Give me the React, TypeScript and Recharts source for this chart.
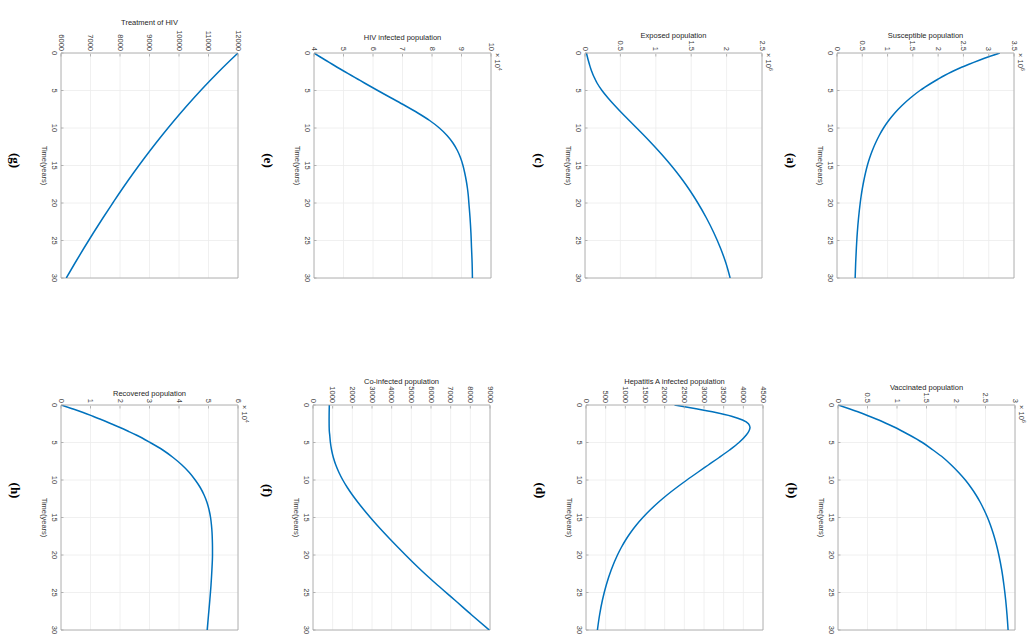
import React from 'react';
import { LineChart, Line, XAxis, YAxis, CartesianGrid, ReferenceLine, Label } from 'recharts';

// ---------- data ----------
const timeYears = [0, 0.5, 1, 1.5, 2, 2.5, 3, 3.5, 4, 5, 6, 7, 8, 9, 10, 11, 12, 13, 14, 15, 16, 17, 18, 19, 20, 22, 24, 26, 28, 30];
const timeTicks = [0, 5, 10, 15, 20, 25, 30];

// (a) Susceptible population, x10^6
const susceptible = [3.22, 3.0, 2.8, 2.61, 2.43, 2.27, 2.125, 1.995, 1.87, 1.64, 1.45, 1.285, 1.143, 1.022, 0.92, 0.835, 0.762, 0.699, 0.645, 0.6, 0.563, 0.531, 0.503, 0.479, 0.459, 0.426, 0.401, 0.383, 0.369, 0.359];
const susceptibleTicks = [0, 0.5, 1, 1.5, 2, 2.5, 3, 3.5];

// (b) Vaccinated population, x10^6
const vaccinated = [0, 0.19, 0.37, 0.53, 0.69, 0.83, 0.97, 1.09, 1.21, 1.43, 1.61, 1.78, 1.92, 2.045, 2.158, 2.254, 2.339, 2.413, 2.477, 2.534, 2.583, 2.626, 2.664, 2.697, 2.726, 2.775, 2.812, 2.842, 2.865, 2.883];
const vaccinatedTicks = [0, 0.5, 1, 1.5, 2, 2.5, 3];

// (c) Exposed population, x10^6
const exposed = [0.02, 0.033, 0.047, 0.062, 0.078, 0.097, 0.118, 0.143, 0.17, 0.24, 0.325, 0.42, 0.52, 0.625, 0.73, 0.835, 0.936, 1.034, 1.128, 1.218, 1.303, 1.383, 1.458, 1.528, 1.594, 1.715, 1.821, 1.913, 1.99, 2.05];
const exposedTicks = [0, 0.5, 1, 1.5, 2, 2.5];

// (d) Hepatitis A infected population
const hepatitisA = [2250, 2800, 3300, 3700, 3980, 4130, 4170, 4140, 4075, 3890, 3650, 3385, 3110, 2835, 2565, 2305, 2060, 1835, 1630, 1445, 1280, 1135, 1008, 897, 800, 640, 515, 418, 345, 290];
const hepatitisATicks = [0, 500, 1000, 1500, 2000, 2500, 3000, 3500, 4000, 4500];

// (e) HIV infected population, x10^4
const hivInfected = [4.0, 4.2, 4.41, 4.62, 4.83, 5.05, 5.27, 5.49, 5.71, 6.16, 6.62, 7.08, 7.52, 7.92, 8.25, 8.51, 8.71, 8.86, 8.97, 9.05, 9.11, 9.16, 9.2, 9.23, 9.25, 9.29, 9.32, 9.34, 9.36, 9.37];
const hivInfectedTicks = [4, 5, 6, 7, 8, 9, 10];

// (f) Co-infected population
const coInfected = [830, 826, 822, 820, 819, 820, 823, 830, 850, 885, 945, 1035, 1160, 1320, 1515, 1745, 2005, 2290, 2595, 2915, 3250, 3600, 3960, 4330, 4705, 5485, 6325, 7205, 8070, 8960];
const coInfectedTicks = [0, 1000, 2000, 3000, 4000, 5000, 6000, 7000, 8000, 9000];

// (g) Treatment of HIV
const treatment = [12000, 11865, 11732, 11601, 11472, 11345, 11220, 11096, 10974, 10735, 10502, 10275, 10054, 9838, 9627, 9421, 9219, 9022, 8829, 8640, 8455, 8274, 8097, 7924, 7755, 7420, 7095, 6780, 6475, 6180];
const treatmentTicks = [6000, 7000, 8000, 9000, 10000, 11000, 12000];

// (h) Recovered population, x10^4
const recovered = [0, 0.38, 0.75, 1.08, 1.4, 1.7, 2.0, 2.28, 2.55, 3.02, 3.45, 3.8, 4.1, 4.35, 4.55, 4.72, 4.85, 4.95, 5.02, 5.07, 5.1, 5.12, 5.13, 5.135, 5.135, 5.115, 5.085, 5.045, 5.0, 4.955];
const recoveredTicks = [0, 1, 2, 3, 4, 5, 6];

// ---------- layout ----------
const BOX_W = 177;
const BOX_H = 225;
const AX = 1; // thickness reserved for each axis
const ML = 62;
const MR = 24;
const MT = 50;
const MB = 8;
const BOX = '#a3a3a3';
const GRID = '#ececec';
const LINE = '#0072BD';
const SANS = '"Liberation Sans", Arial, Helvetica, sans-serif';
const SERIF = '"Liberation Serif", "Times New Roman", serif';

type PanelCfg = {
  letter: string;
  title: string;
  values: number[];
  ticks: number[];
  exp?: string;
  boxLeft: number;
  boxTop: number;
  titleGap: number;
  letterShift: number;
};

const panels: PanelCfg[] = [
  { letter: '(a)', title: 'Susceptible population', values: susceptible, ticks: susceptibleTicks, exp: '6', boxLeft: 837, boxTop: 53, titleGap: 18, letterShift: -5 },
  { letter: '(c)', title: 'Exposed population', values: exposed, ticks: exposedTicks, exp: '6', boxLeft: 585, boxTop: 53, titleGap: 18, letterShift: -5 },
  { letter: '(e)', title: 'HIV infected population', values: hivInfected, ticks: hivInfectedTicks, exp: '4', boxLeft: 314, boxTop: 53, titleGap: 16, letterShift: -5 },
  { letter: '(g)', title: 'Treatment of HIV', values: treatment, ticks: treatmentTicks, boxLeft: 61, boxTop: 53, titleGap: 31, letterShift: -5 },
  { letter: '(b)', title: 'Vaccinated population', values: vaccinated, ticks: vaccinatedTicks, exp: '6', boxLeft: 838, boxTop: 405, titleGap: 18, letterShift: -27 },
  { letter: '(d)', title: 'Hepatitis A infected population', values: hepatitisA, ticks: hepatitisATicks, boxLeft: 586, boxTop: 405, titleGap: 24, letterShift: -27 },
  { letter: '(f)', title: 'Co-infected population', values: coInfected, ticks: coInfectedTicks, boxLeft: 313, boxTop: 405, titleGap: 24, letterShift: -27 },
  { letter: '(h)', title: 'Recovered population', values: recovered, ticks: recoveredTicks, exp: '4', boxLeft: 61, boxTop: 405, titleGap: 12, letterShift: -27 },
];

// ---------- ticks ----------
const ValueTick = (props: any) => {
  const { x, y, payload } = props;
  const ay = y + AX;
  return (
    <g>
      <line x1={x} y1={ay} x2={x} y2={ay + 2.5} stroke={BOX} strokeWidth={0.8} />
      <text
        x={x}
        y={ay - 3}
        transform={`rotate(90 ${x} ${ay - 3})`}
        textAnchor="end"
        dominantBaseline="central"
        fontFamily={SANS}
        fontSize={7.5}
        fill="#404040"
      >
        {String(payload.value)}
      </text>
    </g>
  );
};

const TimeTick = (props: any) => {
  const { x, y, payload } = props;
  const ax = x;
  return (
    <g>
      <line x1={ax} y1={y} x2={ax + 2.5} y2={y} stroke={BOX} strokeWidth={0.8} />
      <text
        x={ax - 7}
        y={y}
        transform={`rotate(90 ${ax - 7} ${y})`}
        textAnchor="middle"
        dominantBaseline="central"
        fontFamily={SANS}
        fontSize={7.5}
        fill="#404040"
      >
        {String(payload.value)}
      </text>
    </g>
  );
};

// ---------- panel ----------
function Panel({ p }: { p: PanelCfg }) {
  const data = timeYears.map((t, i) => ({ t, v: p.values[i] }));
  const lo = p.ticks[0];
  const hi = p.ticks[p.ticks.length - 1];
  const W = BOX_W + ML + MR;
  const H = BOX_H + MT + MB;

  const titleContent = (lp: any) => {
    const vb = lp.viewBox || {};
    const top = vb.y + (vb.height || 0);
    const cx = vb.x + vb.width / 2;
    const ex = vb.x + vb.width + 6;
    return (
      <g>
        <text x={cx} y={top - p.titleGap} textAnchor="middle" dominantBaseline="central" fontFamily={SANS} fontSize={7.5} fill="#262626">
          {p.title}
        </text>
        {p.exp ? (
          <text
            x={ex}
            y={top}
            transform={`rotate(90 ${ex} ${top})`}
            textAnchor="start"
            dominantBaseline="central"
            fontFamily={SANS}
            fontSize={7.5}
            fill="#404040"
          >
            {'\u00d7 10'}
            <tspan dy={-3} fontSize={5.5}>{p.exp}</tspan>
          </text>
        ) : null}
      </g>
    );
  };

  const sideContent = (lp: any) => {
    const vb = lp.viewBox || {};
    const left = vb.x + (vb.width || 0);
    const cy = vb.y + vb.height / 2;
    const tx = left - 17;
    const lx = left - 46;
    const ly = cy + p.letterShift;
    return (
      <g>
        <text x={tx} y={cy} transform={`rotate(90 ${tx} ${cy})`} textAnchor="middle" dominantBaseline="central" fontFamily={SANS} fontSize={7.5} fill="#404040">
          Time(years)
        </text>
        <text x={lx} y={ly} transform={`rotate(90 ${lx} ${ly})`} textAnchor="middle" dominantBaseline="central" fontFamily={SERIF} fontWeight="bold" fontSize={13} fill="#000">
          {p.letter}
        </text>
      </g>
    );
  };

  return (
    <div style={{ position: 'absolute', left: p.boxLeft - ML - AX, top: p.boxTop - MT - AX, width: W + AX, height: H + AX }}>
      <LineChart layout="vertical" width={W + AX} height={H + AX} data={data} margin={{ top: MT, right: MR, bottom: MB, left: ML }}>
        <CartesianGrid stroke={GRID} strokeWidth={0.8} />
        <XAxis
          type="number"
          orientation="top"
          domain={[lo, hi]}
          ticks={p.ticks}
          height={AX}
          interval={0}
          tickSize={0}
          tickMargin={0}
          tickLine={false}
          axisLine={{ stroke: BOX, strokeWidth: 0.8 }}
          tick={<ValueTick />}
          allowDataOverflow
        >
          <Label content={titleContent} />
        </XAxis>
        <YAxis
          type="number"
          dataKey="t"
          domain={[0, 30]}
          ticks={timeTicks}
          width={AX}
          interval={0}
          tickSize={0}
          tickMargin={0}
          tickLine={false}
          axisLine={{ stroke: BOX, strokeWidth: 0.8 }}
          tick={<TimeTick />}
          allowDataOverflow
        >
          <Label content={sideContent} />
        </YAxis>
        <ReferenceLine x={hi} stroke={BOX} strokeWidth={0.8} />
        <ReferenceLine y={30} stroke={BOX} strokeWidth={0.8} />
        <Line type="monotone" dataKey="v" stroke={LINE} strokeWidth={1.5} dot={false} isAnimationActive={false} />
      </LineChart>
    </div>
  );
}

export default function App() {
  return (
    <div style={{ position: 'absolute', left: 0, top: 0, width: 1035, height: 641, background: '#fff', overflow: 'hidden' }}>
      {panels.map((p) => (
        <Panel key={p.letter} p={p} />
      ))}
    </div>
  );
}
